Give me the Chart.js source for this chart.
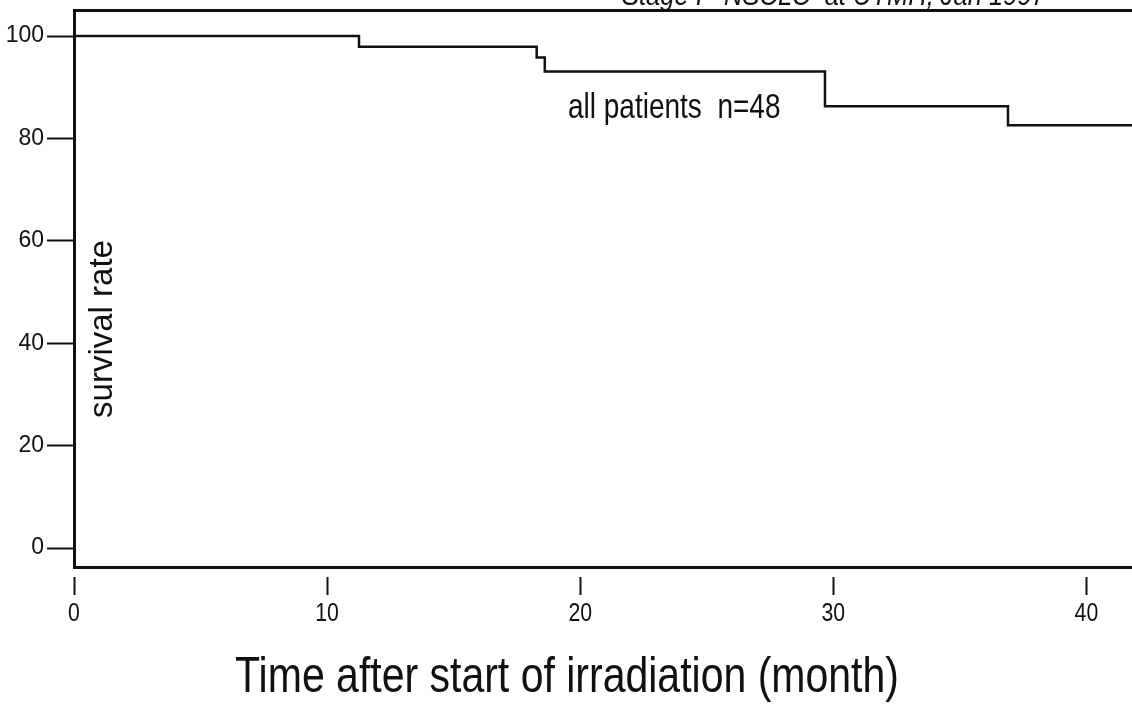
<!DOCTYPE html>
<html>
<head>
<meta charset="utf-8">
<script src="https://cdn.jsdelivr.net/npm/chart.js@4/dist/chart.umd.min.js"></script>
<style>
  html, body { margin: 0; padding: 0; background: #fff; }
  #wrap { width: 1132px; height: 705px; position: relative; }
</style>
</head>
<body>
<div id="wrap"><canvas id="kmChart"></canvas></div>
<script>
// Kaplan-Meier steps
const months = [0, 11.26, 18.28, 18.6, 29.67, 36.9, 41.8];
const survival = [100, 97.9, 95.8, 93.1, 86.3, 82.6, 82.6];
const xTicks = [0, 10, 20, 30, 40];
const yTicks = [0, 20, 40, 60, 80, 100];

const ink = "#111";
const sans = '"Liberation Sans", Arial, sans-serif';

// draws text squeezed horizontally, like the narrow face in the scan
function narrowText(ctx, str, x, y, size, squeeze, align) {
  ctx.save();
  ctx.font = size + "px " + sans;
  ctx.textAlign = align || "left";
  ctx.translate(x, y);
  ctx.scale(squeeze, 1);
  ctx.fillText(str, 0, 0);
  ctx.restore();
}

const textPlugin = {
  id: "kmText",
  afterDraw(chart) {
    const ctx = chart.ctx;
    const area = chart.chartArea;
    const xs = chart.scales.x;
    ctx.save();
    ctx.fillStyle = ink;
    ctx.textBaseline = "alphabetic";

    // header, mostly cut off at the top edge
    ctx.font = "italic 30px " + sans;
    ctx.textAlign = "left";
    ctx.save();
    ctx.translate(622, 5);
    ctx.scale(0.85, 1);
    ctx.fillText("Stage I   NSCLC  at UTMH, Jan 1997", 0, 0);
    ctx.restore();

    // x tick labels
    xTicks.forEach(v => {
      narrowText(ctx, String(v), xs.getPixelForValue(v), 621, 25, 0.85, "center");
    });

    // curve label
    narrowText(ctx, "all patients  n=48", 568, 118, 35, 0.8, "left");

    // x axis title
    narrowText(ctx, "Time after start of irradiation (month)", 567, 692, 50, 0.82, "center");

    // y axis title, inside the plot
    ctx.translate(area.left + 29, 329);
    ctx.rotate(-Math.PI / 2);
    ctx.font = "33px " + sans;
    ctx.textAlign = "center";
    ctx.textBaseline = "middle";
    ctx.fillText("survival rate", 0, 0);
    ctx.restore();
  }
};

new Chart(document.getElementById("kmChart"), {
  type: "line",
  data: {
    datasets: [{
      label: "all patients",
      data: months.map((m, i) => ({ x: m, y: survival[i] })),
      stepped: true,
      borderColor: ink,
      borderWidth: 2.5,
      pointRadius: 0,
      fill: false
    }]
  },
  options: {
    responsive: true,
    maintainAspectRatio: false,
    animation: false,
    devicePixelRatio: 1,
    layout: { padding: { top: 10, left: 0, right: 0, bottom: 0 } },
    plugins: { legend: { display: false }, tooltip: { enabled: false } },
    scales: {
      x: {
        type: "linear",
        position: "bottom",
        min: 0,
        max: 41.8,
        border: { color: ink, width: 3 },
        grid: {
          drawOnChartArea: false,
          tickColor: ink,
          tickWidth: 2,
          tickLength: 28,
          tickBorderDash: [0, 8, 20, 100]
        },
        ticks: { display: false },
        afterBuildTicks: (s) => { s.ticks = xTicks.map(v => ({ value: v })); },
        afterFit: (s) => { s.height = 138; s.paddingLeft = 0; s.paddingRight = 0; }
      },
      xTop: {
        type: "linear",
        position: "top",
        min: 0,
        max: 41.8,
        border: { color: ink, width: 3 },
        grid: { display: false },
        ticks: { display: false },
        afterFit: (s) => { s.height = 0; s.paddingLeft = 0; s.paddingRight = 0; }
      },
      y: {
        min: -3.7,
        max: 105.1,
        border: { color: ink, width: 3 },
        grid: {
          drawOnChartArea: false,
          tickColor: ink,
          tickWidth: 2,
          tickLength: 27
        },
        ticks: {
          color: ink,
          font: { family: sans, size: 23 },
          padding: 3
        },
        afterBuildTicks: (s) => { s.ticks = yTicks.map(v => ({ value: v })); },
        afterFit: (s) => { s.width = 74; s.paddingTop = 0; s.paddingBottom = 0; }
      }
    }
  },
  plugins: [textPlugin]
});
</script>
</body>
</html>
